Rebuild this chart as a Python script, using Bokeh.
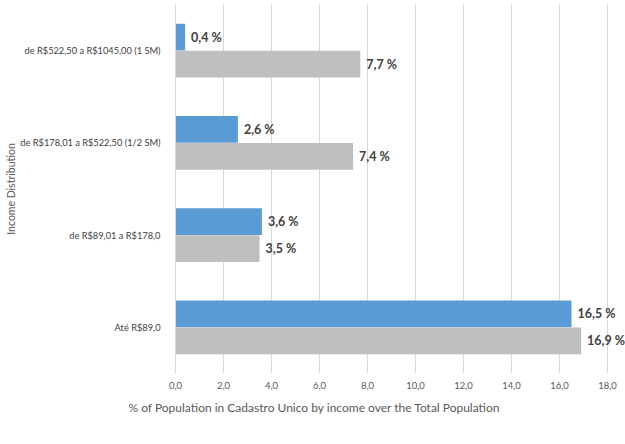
from bokeh.plotting import figure
from bokeh.models import ColumnDataSource, FactorRange, Range1d, FixedTicker, LabelSet, Legend, LegendItem, Title
from bokeh.core.properties import value
from bokeh.transform import dodge
from bokeh.embed import file_html
from bokeh.resources import INLINE

categories = ["Até R$89,0", "de R$89,01 a R$178,0",
              "de R$178,01 a R$522,50 (1/2 SM)", "de R$522,50 a R$1045,00 (1 SM)"]
venezuelans = [16.5, 3.6, 2.6, 0.4]
brazilians = [16.9, 3.5, 7.4, 7.7]
x_ticks = [0, 2, 4, 6, 8, 10, 12, 14, 16, 18]
x_tick_labels = ["0,0", "2,0", "4,0", "6,0", "8,0", "10,0", "12,0", "14,0", "16,0", "18,0"]

FONT = "Lato"
BLUE = "#5B9BD5"
GRAY = "#BFBFBF"

src = ColumnDataSource(dict(
    cat=categories,
    ven=venezuelans,
    bra=brazilians,
    ven_lbl=[("%.1f %%" % v).replace(".", ",") for v in venezuelans],
    bra_lbl=[("%.1f %%" % v).replace(".", ",") for v in brazilians],
))

p = figure(width=625, height=444, frame_width=450, frame_height=369,
           y_range=FactorRange(factors=categories, range_padding=0),
           x_range=Range1d(0, 18.75), output_backend="svg", toolbar_location=None,
           min_border_left=175, min_border_right=0, min_border_top=4, min_border_bottom=0)

off = 0.146
bh = 0.29
rv = p.hbar(y=dodge("cat", off, range=p.y_range), right="ven", left=0, height=bh,
            color=BLUE, line_color=None, source=src)
rb = p.hbar(y=dodge("cat", -off, range=p.y_range), right="bra", left=0, height=bh,
            color=GRAY, line_color=None, source=src)

for col, lbl, d in (("ven", "ven_lbl", off), ("bra", "bra_lbl", -off)):
    p.add_layout(LabelSet(x=col, y=dodge("cat", d, range=p.y_range), text=lbl, source=src,
                          x_offset=6, text_baseline="middle", text_font=value(FONT),
                          text_font_style="bold", text_font_size="12.5px", text_color="#404040"))

p.outline_line_color = None
p.ygrid.visible = False
p.xgrid.grid_line_color = "#D9D9D9"
p.xaxis.ticker = FixedTicker(ticks=x_ticks)
p.xaxis.major_label_overrides = {t: l for t, l in zip(x_ticks, x_tick_labels)}
p.xaxis.axis_line_color = None
p.xaxis.major_tick_line_color = None
p.xaxis.minor_tick_line_color = None
p.xaxis.major_label_standoff = 2
p.xaxis.major_label_text_font = FONT
p.xaxis.major_label_text_font_size = "9.5px"
p.xaxis.major_label_text_color = "#595959"

p.yaxis.axis_line_color = "#D9D9D9"
p.yaxis.major_tick_line_color = None
p.yaxis.minor_tick_line_color = None
p.yaxis.major_label_standoff = 9
p.yaxis.major_label_text_font = FONT
p.yaxis.major_label_text_font_size = "9.25px"
p.yaxis.major_label_text_color = "#404040"
p.yaxis.axis_label = "Income Distribution"
p.yaxis.axis_label_standoff = 0
p.yaxis.axis_label_text_font = FONT
p.yaxis.axis_label_text_font_style = "normal"
p.yaxis.axis_label_text_font_size = "10.5px"
p.yaxis.axis_label_text_color = "#595959"

p.add_layout(Title(text="% of Population in Cadastro Unico by income over the Total Population",
                   align="left", offset=-47, text_font=FONT, text_font_style="normal",
                   text_font_size="12px", text_color="#595959", standoff=12), "below")

legend = Legend(items=[LegendItem(label="Venezuelans", renderers=[rv]),
                       LegendItem(label="Brazilians", renderers=[rb])],
                orientation="horizontal", location=(53, 0), border_line_color=None,
                background_fill_alpha=0, glyph_width=8, glyph_height=8, padding=0, margin=0,
                spacing=16, label_standoff=4, label_height=12, label_text_font=FONT,
                label_text_font_size="13.5px", label_text_color="#595959")
p.add_layout(legend, "below")

open("out.html", "w").write(file_html(p, INLINE))
